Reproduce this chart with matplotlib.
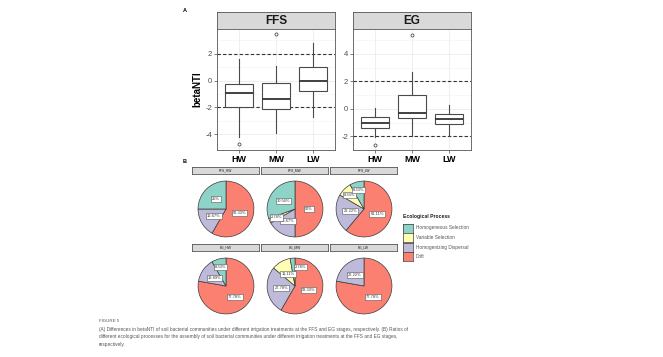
import numpy as np
import matplotlib
matplotlib.use("Agg")
import matplotlib.pyplot as plt

plt.rcParams['font.family'] = ['Liberation Sans', 'DejaVu Sans']

# ---- panel A: betaNTI boxplots ----
groups = ['HW', 'MW', 'LW']
ffs_q1 = [-2.00, -2.15, -0.77]
ffs_med = [-0.96, -1.40, -0.05]
ffs_q3 = [-0.27, -0.17, 0.99]
ffs_lo = [-4.20, -3.93, -2.69]
ffs_hi = [1.63, 1.06, 2.79]
ffs_out = [[-4.74], [3.46], []]

eg_q1 = [-1.40, -0.70, -1.13]
eg_med = [-1.04, -0.29, -0.72]
eg_q3 = [-0.60, 1.00, -0.36]
eg_lo = [-2.05, -1.98, -1.98]
eg_hi = [0.07, 2.65, 0.24]
eg_out = [[-2.60], [5.40], []]

# ---- panel B: ecological process ratios (%) ----
processes = ['Homogeneous Selection', 'Variable Selection',
             'Homogenizing Dispersal', 'Drift']
proc_colors = ['#8DD3C7', '#FFFFB3', '#BEBADA', '#FB8072']
pie_names = ['FFS_HW', 'FFS_MW', 'FFS_LW', 'EG_HW', 'EG_MW', 'EG_LW']
# order: Homogeneous Selection, Variable Selection, Homogenizing Dispersal, Drift
pie_values = [
    [25.00, 0.00, 16.67, 58.33],
    [30.56, 2.78, 16.67, 50.00],
    [8.33, 8.33, 22.22, 61.11],
    [8.33, 0.00, 13.89, 77.78],
    [2.78, 11.11, 27.78, 58.33],
    [0.00, 0.00, 22.22, 77.78],
]

caption_title = 'FIGURE 5'
caption_lines = [
    '(A) Differences in betaNTI of soil bacterial communities under different irrigation treatments at the FFS and EG stages, respectively. (B) Ratios of',
    'different ecological processes for the assembly of soil bacterial communities under different irrigation treatments at the FFS and EG stages,',
    'respectively.',
]

W, H = 663, 357
fig = plt.figure(figsize=(W / 100, H / 100), dpi=100)
fig.patch.set_facecolor('white')


def px_axes(x0, y0, x1, y1, **kw):
    return fig.add_axes([x0 / W, 1 - y1 / H, (x1 - x0) / W, (y1 - y0) / H], **kw)


def strip(x0, y0, x1, y1, label, size, bold):
    s = px_axes(x0, y0, x1, y1)
    s.set_facecolor('#d9d9d9')
    s.set_xticks([])
    s.set_yticks([])
    for sp in s.spines.values():
        sp.set_color('#555555')
        sp.set_linewidth(0.6)
    s.text(0.5, 0.45, label, ha='center', va='center', fontsize=size,
           fontweight='bold' if bold else 'normal', color='#1a1a1a',
           transform=s.transAxes)


def box_panel(x0, x1, name, q1, med, q3, lo, hi, out, ylim, majors, minors, ylabel):
    strip(x0, 12, x1, 29, name, 8.5, True)
    ax = px_axes(x0, 29, x1, 150)
    stats = []
    for i in range(3):
        stats.append(dict(q1=q1[i], med=med[i], q3=q3[i], whislo=lo[i],
                          whishi=hi[i], fliers=out[i]))
    ax.bxp(stats, positions=[1, 2, 3], widths=0.75, patch_artist=True,
           boxprops=dict(facecolor='white', edgecolor='#4a4a4a', linewidth=0.8),
           medianprops=dict(color='#333333', linewidth=1.3),
           whiskerprops=dict(color='#4a4a4a', linewidth=0.8),
           capprops=dict(linewidth=0),
           flierprops=dict(marker='o', markersize=2.2, markerfacecolor='white',
                           markeredgecolor='#333333', markeredgewidth=0.5))
    ax.axhline(2, color='#333333', linestyle=(0, (3, 2)), linewidth=0.8, zorder=1)
    ax.axhline(-2, color='#333333', linestyle=(0, (3, 2)), linewidth=0.8, zorder=1)
    ax.set_xlim(0.4, 3.6)
    ax.set_ylim(*ylim)
    ax.set_yticks(majors)
    ax.set_yticks(minors, minor=True)
    ax.set_xticks([1, 2, 3])
    ax.set_xticklabels(groups, fontsize=6.5, fontweight='bold', color='black')
    ax.set_yticklabels([str(v) for v in majors], fontsize=5.5, color='#4d4d4d')
    ax.grid(True, which='major', color='#ebebeb', linewidth=0.6, zorder=0)
    ax.grid(True, which='minor', axis='y', color='#f2f2f2', linewidth=0.4, zorder=0)
    ax.set_axisbelow(True)
    ax.tick_params(axis='both', which='major', length=2, width=0.5,
                   color='#4d4d4d', pad=1.5)
    ax.tick_params(axis='y', which='minor', length=0)
    for sp in ax.spines.values():
        sp.set_color('#555555')
        sp.set_linewidth(0.6)
    if ylabel:
        ax.set_ylabel('betaNTI', fontsize=7, fontweight='bold', labelpad=2)
    return ax


fig.text(183 / W, 1 - 11 / H, 'A', fontsize=4, fontweight='bold', ha='left', va='center')
box_panel(217, 335, 'FFS', ffs_q1, ffs_med, ffs_q3, ffs_lo, ffs_hi, ffs_out,
          (-5.19, 3.85), [-4, -2, 0, 2], [-5, -3, -1, 1, 3], True)
box_panel(353, 471, 'EG', eg_q1, eg_med, eg_q3, eg_lo, eg_hi, eg_out,
          (-3.0, 5.8), [-2, 0, 2, 4], [-3, -1, 1, 3, 5], False)

# ---- panel B ----
fig.text(183 / W, 1 - 162 / H, 'B', fontsize=4, fontweight='bold', ha='left', va='center')
centers_x = [226, 295, 364]
rows_y = [209, 286]
strip_y = [(167, 174), (244, 251)]
R = 28.5
for k, name in enumerate(pie_names):
    r, c = divmod(k, 3)
    cx, cy = centers_x[c], rows_y[r]
    strip(cx - 34, strip_y[r][0], cx + 33, strip_y[r][1], name, 2.3, False)
    ax = px_axes(cx - R, cy - R, cx + R, cy + R)
    vals = np.array(pie_values[k])
    order = [3, 2, 1, 0]  # drift first, clockwise from top
    v = vals[order]
    cols = [proc_colors[i] for i in order]
    keep = v > 0
    ax.pie(v[keep], colors=[cc for cc, kk in zip(cols, keep) if kk],
           startangle=90, counterclock=False, radius=1,
           wedgeprops=dict(edgecolor='#3a3a3a', linewidth=0.5))
    ax.set_xlim(-1.02, 1.02)
    ax.set_ylim(-1.02, 1.02)
    ax.set_aspect('equal')
    ax.axis('off')
    start = 0.0
    for val in v[keep]:
        mid = (start + val / 2) / 100 * 2 * np.pi
        start += val
        rad = 0.5 if val >= 10 else 0.72
        if val < 5:
            mid += 0.35 if mid > np.pi * 1.8 else 0.0
        lx, ly = rad * np.sin(mid), rad * np.cos(mid)
        lab = '{:.2f}%'.format(val).replace('.00%', '%')
        ax.text(lx, ly, lab, fontsize=2.9, ha='center', va='center', color='#333333',
                bbox=dict(boxstyle='square,pad=0.25', facecolor='white',
                          edgecolor='#555555', linewidth=0.4))

# legend
fig.text(403 / W, 1 - 217 / H, 'Ecological Process', fontsize=3.6,
         fontweight='bold', ha='left', va='center', color='#1a1a1a')
for i, (p, col) in enumerate(zip(processes, proc_colors)):
    y = 228 + i * 9.6
    lax = px_axes(403, y - 4.5, 413, y + 4.5)
    lax.set_facecolor(col)
    lax.set_xticks([])
    lax.set_yticks([])
    for sp in lax.spines.values():
        sp.set_color('#3a3a3a')
        sp.set_linewidth(0.5)
    fig.text(416 / W, 1 - y / H, p, fontsize=3.4, ha='left', va='center', color='#555555')

# caption
fig.text(99 / W, 1 - 321 / H, caption_title, fontsize=3.2, ha='left', va='center',
         color='#555555')
for i, line in enumerate(caption_lines):
    fig.text(99 / W, 1 - (329 + i * 7.6) / H, line, fontsize=3.45, ha='left',
             va='center', color='#555555')

fig.savefig('out.png', dpi=100, facecolor='white')
